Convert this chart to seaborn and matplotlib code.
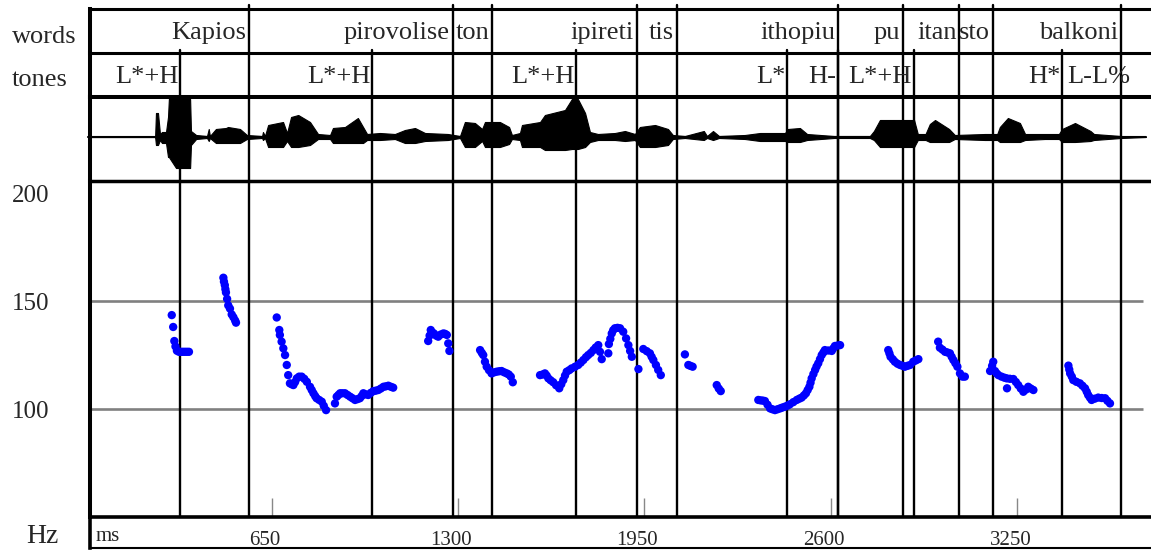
import numpy as np
import pandas as pd
import seaborn as sns
import matplotlib.pyplot as plt
from matplotlib.transforms import ScaledTranslation

# word tier: labels and the end of each word interval (ms)
words = ["Kapios", "pirovolise", "ton", "ipireti", "tis", "ithopiu", "pu", "itan", "sto", "balkoni"]
word_ends = [571, 1282, 1418, 1924, 2062, 2625, 2851, 3048, 3165, 3612]

# tone tier: labels and their time points (ms); the last one is the final boundary tone
tones = ["L*+H", "L*+H", "L*+H", "L*", "H-", "L*+H", "H*", "L-L%"]
tone_times = [331, 1000, 1711, 2447, 2625, 2888, 3406, 3650]

# pitch track
f0_ms = [302, 307, 311, 315, 320, 327, 334, 341, 348, 355, 362,
         482, 484, 487, 489, 491, 495, 499, 505, 511, 517, 523, 526,
         668, 677, 679, 685, 691, 697, 703, 708, 714, 720, 726, 732, 738, 746, 755, 764, 773, 784, 790, 796,
         802, 807, 816, 825, 832, 840, 871, 877, 883, 889, 897, 906, 915, 924, 932, 941, 950, 958, 964, 970,
         978, 987, 996, 1005, 1013, 1022, 1031, 1040, 1048, 1057, 1066, 1074,
         1196, 1201, 1205, 1210, 1216, 1224, 1231, 1240, 1249, 1255, 1261, 1266, 1270,
         1377, 1383, 1388, 1394, 1400, 1408, 1417, 1426, 1435, 1444, 1452, 1461, 1470, 1477, 1484, 1491,
         1586, 1595, 1603, 1609, 1615, 1623, 1632, 1642, 1653, 1660, 1667, 1673, 1679, 1688, 1696, 1708,
         1719, 1728, 1737, 1746, 1754, 1763, 1772, 1780, 1789, 1795, 1801, 1824, 1826, 1831, 1836, 1841,
         1847, 1856, 1865, 1876, 1886, 1894, 1900, 1906, 1929,
         1946, 1958, 1969, 1975, 1981, 1990, 1998, 2007,
         2091, 2103, 2110, 2118,
         2202, 2209, 2216,
         2347, 2355, 2363, 2370, 2379, 2388, 2396, 2405, 2414, 2423, 2431, 2440, 2449, 2457, 2469, 2481,
         2490, 2498, 2506, 2513, 2519, 2525, 2529, 2533, 2539, 2545, 2550, 2556, 2562, 2568, 2574, 2579,
         2591, 2603, 2608, 2614, 2623, 2632,
         2800, 2804, 2808, 2816, 2823, 2832, 2841, 2850, 2858, 2867, 2876, 2887, 2896, 2905,
         2974, 2980, 2989, 2998, 3006, 3015, 3021, 3027, 3034, 3041, 3050, 3059, 3067,
         3155, 3162, 3166, 3172, 3178, 3184, 3195, 3205, 3213, 3214, 3224, 3236, 3245, 3253, 3262, 3271,
         3280, 3288, 3297, 3306,
         3428, 3431, 3434, 3440, 3445, 3456, 3468, 3477, 3486, 3492, 3497, 3503, 3509, 3520, 3532, 3544,
         3556, 3564, 3573]
f0_hz = [143.5, 138, 131.5, 129, 127, 126.5, 126.5, 126.5, 126.5, 126.5, 126.5,
         160.8, 159, 157.4, 155.5, 154, 151, 148, 146.5, 143.8, 142.5, 141, 140,
         142.4, 136.6, 134.3, 131.2, 128.1, 125, 120.4, 115.7, 111.9, 111.5, 111.1, 112.5, 114.2, 115, 115,
         114, 112.6, 110.3, 108.8, 107.3,
         106, 105, 104.2, 103.4, 101.5, 99.5, 102.6, 105.7, 106.5, 107.3, 107.3, 107.3, 106.5, 105.7, 105,
         104.2, 104.6, 105, 106, 107.3,
         106.8, 106.5, 107.5, 108.3, 108.5, 108.8, 109.5, 110.3, 110.5, 110.8, 110.3, 109.9,
         131.5, 134, 136.6, 135.5, 135, 134, 133.5, 134.5, 135, 134.8, 134.3, 130.4, 126.9,
         127.3, 126, 125, 121.9, 119.6, 118, 116.5, 117, 117.3, 117.5, 117.6, 117, 116.5, 116, 115, 112.4,
         115.7, 116, 116.5, 115.5, 114.2, 113.3, 112.4, 111, 109.6, 111.5, 113.4, 115.5, 117.3, 118, 118.8,
         119.6, 120.4, 121.5, 122.7, 124, 125, 126, 127.3, 128.5, 129.6, 126.5, 123.1, 125.8, 130.1, 132.5,
         135, 136.5, 137.4, 137.6, 137.4, 135.8, 132.7, 129.6, 126.9, 124.2, 118.5,
         127.8, 126.8, 125.8, 124.2, 122.7, 120.4, 118.1, 115.7,
         125.3, 120.4, 120, 119.6,
         111.1, 109.5, 108.3,
         104.2, 104, 103.9, 103.7, 102, 100.3, 99.9, 99.5, 99.9, 100.3, 100.7, 101.1, 101.6, 102.2, 103.2,
         104.2, 104.8, 105.3, 106.3, 107.3, 108.8, 110.3, 112.2, 114.2, 116.2, 118.1, 119.7, 121.2, 123.1,
         125, 126.2, 127.3, 127.1, 126.9, 128, 129.2, 129.4, 129.6,
         127.3, 125.8, 124.2, 123, 121.9, 121, 120.4, 120, 119.6, 120, 120.4, 121.9, 122.5, 123.1,
         131.2, 128.4, 127.5, 126.5, 126.2, 125.8, 124.2, 122.7, 121.2, 119.6, 116.5, 115, 115,
         117.6, 120, 121.9, 117.6, 116.5, 115.7, 115, 114.5, 114.2, 109.6, 114, 113.9, 112.5, 111.1, 109.5,
         108, 109, 110.3, 109.5, 108.8,
         120.1, 118.3, 116.5, 115, 113.4, 112.6, 111.9, 110.8, 109.6, 108, 106.5, 105.3, 104.2, 104.8,
         105.3, 105.1, 105, 103.8, 102.6]

# waveform, as an upper / lower amplitude envelope
wave_ms = [10, 244, 247, 254, 261, 268, 282, 289, 292, 317, 366, 369, 387, 425, 431, 435, 456, 491, 498, 540,
           564, 617, 620, 627, 638, 690, 704, 718, 743, 784, 812, 854, 864, 906, 951, 969, 983, 1028, 1080, 1115,
           1150, 1185, 1265, 1307, 1324, 1359, 1384, 1394, 1446, 1478, 1488, 1516, 1523, 1586, 1603, 1673, 1697,
           1718, 1743, 1760, 1788, 1847, 1882, 1917, 1934, 1987, 2032, 2049, 2091, 2157, 2168, 2189, 2210, 2300,
           2353, 2440, 2450, 2492, 2517, 2611, 2736, 2750, 2771, 2890, 2903, 2930, 2945, 2963, 3012, 3032, 3137,
           3180, 3189, 3217, 3259, 3277, 3346, 3395, 3406, 3451, 3505, 3517, 3611, 3698]
wave_hi = [0, 0, 24, 24, 3, 5, 5, 20, 38, 38, 38, 6, 2, 1, 8, 1, 8, 9, 10, 8,
           2, 1, 5, 1, 12, 15, 4, 20, 22, 15, 3, 2, 9, 10, 19, 10, 3, 4, 3, 7,
           9, 4, 3, 1, 15, 14, 8, 15, 15, 10, 2, 4, 12, 15, 22, 27, 38, 38, 24, 5,
           3, 4, 6, 3, 10, 12, 8, 2, 1, 6, 1, 6, 1, 2, 4, 4, 8, 9, 3, 1, 1,
           6, 17, 17, 3, 3, 13, 17, 8, 2, 3, 3, 10, 19, 14, 3, 3, 3, 8, 14, 6, 3, 1, 0]
wave_lo = [0, 0, -8, -8, -3, -6, -6, -20, -20, -31, -31, -8, -2, -1, -4, -1, -6, -6, -6, -6,
           -2, -1, -3, -1, -10, -10, -4, -10, -10, -8, -2, -2, -6, -6, -6, -6, -3, -3, -2, -6,
           -6, -4, -3, -1, -10, -10, -4, -10, -10, -7, -2, -3, -10, -10, -13, -13, -12, -12, -10, -5,
           -3, -3, -4, -3, -10, -10, -8, -2, -1, -3, -1, -3, -1, -2, -4, -4, -5, -5, -3, -1, -1,
           -3, -10, -10, -3, -3, -5, -5, -5, -2, -3, -3, -5, -5, -5, -3, -2, -2, -5, -5, -4, -3, -1, 0]

hz_ticks = [100, 150, 200]
hz_grid = [100, 150]
ms_ticks = [650, 1300, 1950, 2600, 3250]

sns.set_theme(style="white")
plt.rcParams['font.family'] = ['Liberation Serif', 'DejaVu Serif']

W, H = 1151, 550
fig = plt.figure(figsize=(W / 100, H / 100), dpi=100)


def panel(top, bottom, left=90, right=1151):
    # rectangle in figure pixels -> figure fraction
    return [left / W, 1 - bottom / H, (right - left) / W, (bottom - top) / H]


ax_w = fig.add_axes(panel(9, 53))
ax_t = fig.add_axes(panel(53, 97))
ax_s = fig.add_axes(panel(97, 181))
ax_p = fig.add_axes(panel(181, 517))
ax_m = fig.add_axes(panel(517, 548))
axes = [ax_w, ax_t, ax_s, ax_p, ax_m]

for ax in axes:
    ax.set_facecolor('none')
    ax.set_xlim(17, 3716)
    ax.set_xticks([])
    ax.set_yticks([])
    for s in ax.spines.values():
        s.set_visible(False)
    ax.spines['left'].set_visible(True)
    ax.spines['left'].set_color('black')
    ax.spines['left'].set_linewidth(2.9)
    ax.spines['bottom'].set_visible(True)
    ax.spines['bottom'].set_color('black')
    ax.spines['bottom'].set_zorder(5)

ax_w.spines['top'].set_visible(True)
ax_w.spines['top'].set_color('black')
ax_w.spines['top'].set_linewidth(2.2)
ax_w.spines['bottom'].set_linewidth(2.2)
ax_t.spines['bottom'].set_linewidth(2.9)
ax_s.spines['bottom'].set_linewidth(2.5)
ax_p.spines['bottom'].set_linewidth(2.6)
ax_m.spines['bottom'].set_linewidth(1.5)
ax_m.spines['left'].set_linewidth(2.6)

# waveform
ax_s.set_ylim(-44, 40)
ax_s.fill_between(wave_ms, wave_lo, wave_hi, color='black', lw=0.8)
ax_s.plot([wave_ms[0], wave_ms[-1]], [0, 0], color='black', lw=1.5, clip_on=False)

# pitch
ax_p.set_ylim(50, 205.6)
ax_p.hlines(hz_grid, 17, 3688, color='#808080', lw=1.9, zorder=1)
df = pd.DataFrame({'ms': f0_ms, 'hz': f0_hz})
sns.scatterplot(data=df, x='ms', y='hz', ax=ax_p, color='#0000ff', s=36,
                edgecolor='none', linewidth=0, legend=False, zorder=3)
ax_p.set_xlabel('')
ax_p.set_ylabel('')
ax_p.set_xticks(ms_ticks)
ax_p.tick_params(axis='x', direction='in', length=14, width=1.0, color='#888888',
                 bottom=True, labelbottom=False)
ax_p.set_yticks(hz_ticks)
ax_p.set_yticklabels([str(v) for v in hz_ticks])
ax_p.tick_params(axis='y', length=0, pad=56, labelsize=18, left=True)
for lab in ax_p.get_yticklabels():
    lab.set_horizontalalignment('left')

# boundaries and tone points
for b in word_ends:
    ax_w.axvline(b, ymin=0, ymax=1.1, color='black', lw=1.7, clip_on=False)
    for ax in [ax_t, ax_s, ax_p]:
        ax.axvline(b, color='black', lw=1.7, zorder=2)
for t in tone_times[:-1]:
    ax_w.axvline(t, ymin=0, ymax=0.07, color='black', lw=1.7)
    for ax in [ax_t, ax_s, ax_p]:
        ax.axvline(t, color='black', lw=1.7, zorder=2)

# tier labels
for w, e in zip(words, word_ends):
    ax_w.text(e - 10, 0.32, w, transform=ax_w.get_xaxis_transform(),
              ha='right', va='baseline', fontsize=19)
for lab, t in zip(tones, tone_times):
    ax_t.text(t - 5, 0.32, lab, transform=ax_t.get_xaxis_transform(),
              ha='right', va='baseline', fontsize=19)

ax_w.text(-0.0735, 0.227, 'words', transform=ax_w.transAxes, ha='left', va='baseline', fontsize=19)
ax_t.text(-0.0735, 0.25, 'tones', transform=ax_t.transAxes, ha='left', va='baseline', fontsize=19)

# time axis box
ax_m.set_xticks(ms_ticks)
ax_m.set_xticklabels([str(v) for v in ms_ticks])
ax_m.tick_params(axis='x', length=0, pad=-12, labelsize=15, bottom=True)
shift = ScaledTranslation(-7 / 100, 0, fig.dpi_scale_trans)
for lab in ax_m.get_xticklabels():
    lab.set_transform(lab.get_transform() + shift)
ax_m.text(0.005, 0.22, 'ms', transform=ax_m.transAxes, ha='left', va='baseline', fontsize=15)
ax_m.text(-0.0603, 0.15, 'Hz', transform=ax_m.transAxes, ha='left', va='baseline', fontsize=20)

fig.savefig('out.png', dpi=100)
